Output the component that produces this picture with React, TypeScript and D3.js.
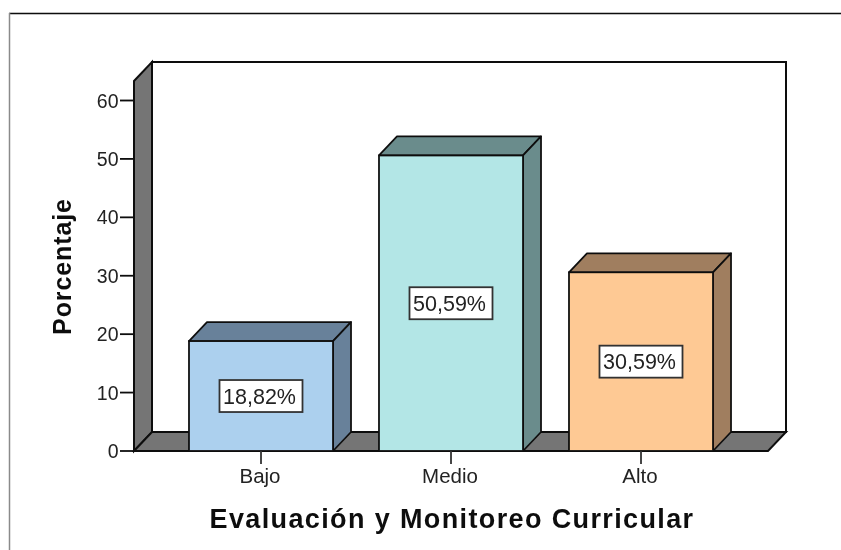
import React from "react";
import * as d3 from "d3";

const categories = ["Bajo", "Medio", "Alto"];
const values = [18.82, 50.59, 30.59];
const valueLabels = ["18,82%", "50,59%", "30,59%"];
const frontColors = ["#acd0ee", "#b3e6e6", "#fec994"];
const sideColors = ["#68819a", "#6a8c8c", "#a07e5e"];
const yTicks = [0, 10, 20, 30, 40, 50, 60];
const xTitle = "Evaluación y Monitoreo Curricular";
const yTitle = "Porcentaje";

const W = 841, H = 550;
const dx = 18, dy = 19;
const y = d3.scaleLinear().domain([0, 60]).range([451, 100.5]);
const x = d3.scaleBand<string>().domain(categories).range([166, 736]).paddingInner(0.242).paddingOuter(0.121);
const plotLeft = 134, plotRight = 768, plotTop = 81;
const font = "Liberation Sans, Arial, sans-serif";
const grey = "#757575", ink = "#111";

const poly = (pts: number[][]) => (d3.line()(pts as [number, number][]) as string) + "Z";

export default function App() {
  const y0 = y(0);
  return (
    <svg width={W} height={H} style={{ position: "absolute", left: 0, top: 0, background: "#fff" }} fontFamily={font}>
      <defs>
        <filter id="soft" x="-5%" y="-5%" width="110%" height="110%">
          <feGaussianBlur stdDeviation="0.45" />
        </filter>
      </defs>
      <g filter="url(#soft)">
        {/* outer frame */}
        <line x1={9} x2={841} y1={13.5} y2={13.5} stroke="#111" strokeWidth={1.5} />
        <line x1={9.5} x2={9.5} y1={13} y2={550} stroke="#8a8a8a" strokeWidth={1.5} />

        {/* back wall */}
        <rect x={plotLeft + dx} y={plotTop - dy} width={plotRight - plotLeft} height={y0 - plotTop} fill="#fff" stroke={ink} strokeWidth={2} />
        {/* left wall */}
        <path d={poly([[plotLeft, plotTop], [plotLeft + dx, plotTop - dy], [plotLeft + dx, y0 - dy], [plotLeft, y0]])} fill={grey} stroke={ink} strokeWidth={2} />
        {/* floor */}
        <path d={poly([[plotLeft, y0], [plotLeft + dx, y0 - dy], [plotRight + dx, y0 - dy], [plotRight, y0]])} fill={grey} stroke={ink} strokeWidth={2} />

        {/* y axis */}
        {yTicks.map((t) => (
          <g key={t}>
            <line x1={plotLeft - 14} x2={plotLeft} y1={y(t)} y2={y(t)} stroke={ink} strokeWidth={1.8} />
            <text x={plotLeft - 15.5} y={y(t) + 7} textAnchor="end" fontSize={19.5} fill="#222">{t}</text>
          </g>
        ))}

        {/* bars */}
        {categories.map((c, i) => {
          const bx = x(c) as number;
          const bw = x.bandwidth();
          const top = y(values[i]);
          return (
            <g key={c}>
              <path d={poly([[bx, top], [bx + dx, top - dy], [bx + bw + dx, top - dy], [bx + bw, top]])} fill={sideColors[i]} stroke={ink} strokeWidth={1.8} strokeLinejoin="round" />
              <path d={poly([[bx + bw, top], [bx + bw + dx, top - dy], [bx + bw + dx, y0 - dy], [bx + bw, y0]])} fill={sideColors[i]} stroke={ink} strokeWidth={1.8} strokeLinejoin="round" />
              <rect x={bx} y={top} width={bw} height={y0 - top} fill={frontColors[i]} stroke={ink} strokeWidth={1.8} />
              <line x1={bx + bw / 2} x2={bx + bw / 2} y1={y0} y2={y0 + 13} stroke="#333" strokeWidth={1.8} />
              <text x={bx + bw / 2 - 1} y={y0 + 32} textAnchor="middle" fontSize={20.5} fill="#222">{c}</text>
              <rect x={bx + bw / 2 - 41.5} y={(top + y0) / 2 - 16} width={83} height={32} fill="#fff" stroke="#333" strokeWidth={1.8} />
              <text x={bx + bw / 2 - 1.5} y={(top + y0) / 2 + 7.5} textAnchor="middle" fontSize={21.5} fill="#222">{valueLabels[i]}</text>
            </g>
          );
        })}

        {/* titles */}
        <text x={452} y={528} textAnchor="middle" fontSize={27} fontWeight="bold" letterSpacing={1.37} fill="#111">{xTitle}</text>
        <text transform="translate(71,266.5) rotate(-90)" textAnchor="middle" fontSize={25} fontWeight="bold" letterSpacing={0.9} fill="#111">{yTitle}</text>
      </g>
    </svg>
  );
}
